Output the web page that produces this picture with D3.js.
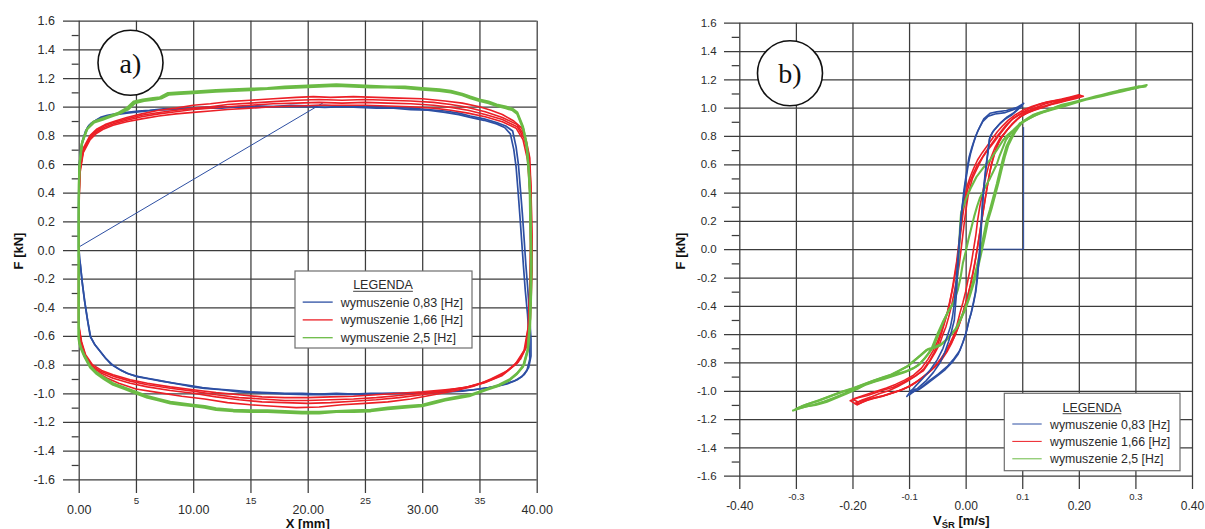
<!DOCTYPE html>
<html>
<head>
<meta charset="utf-8">
<script src="https://cdn.jsdelivr.net/npm/d3@7"></script>
<style>
  body { margin: 0; background: #fff; }
  svg { display: block; }
</style>
</head>
<body>
<svg id="chart" width="1205" height="529"></svg>
<script>
// ---- tick values and labels ----
const forceTicks = [-1.6, -1.4, -1.2, -1.0, -0.8, -0.6, -0.4, -0.2, 0.0, 0.2, 0.4, 0.6, 0.8, 1.0, 1.2, 1.4, 1.6];
const forceTickLabels = ["-1.6", "-1.4", "-1.2", "-1.0", "-0.8", "-0.6", "-0.4", "-0.2", "0.0", "0.2", "0.4", "0.6", "0.8", "1.0", "1.2", "1.4", "1.6"];
const forceMinorTicks = [-1.5, -1.3, -1.1, -0.9, -0.7, -0.5, -0.3, -0.1, 0.1, 0.3, 0.5, 0.7, 0.9, 1.1, 1.3, 1.5];

const strokeMajorTicks = [0, 10, 20, 30, 40];
const strokeMajorLabels = ["0.00", "10.00", "20.00", "30.00", "40.00"];
const strokeMinorTicks = [5, 15, 25, 35];
const strokeMinorLabels = ["5", "15", "25", "35"];

const velMajorTicks = [-0.4, -0.2, 0.0, 0.2, 0.4];
const velMajorLabels = ["-0.40", "-0.20", "0.00", "0.20", "0.40"];
const velMinorTicks = [-0.3, -0.1, 0.1, 0.3];
const velMinorLabels = ["-0.3", "-0.1", "0.1", "0.3"];

const legendLabels = ["wymuszenie 0,83 [Hz]", "wymuszenie 1,66 [Hz]", "wymuszenie 2,5 [Hz]"];

// ---- a) force vs. stroke X [mm] ----
const strokeBlueStart = [[0, 0.02], [21.3, 1.025]];

const strokeBlue1 = [[0,0.02],[0,0.3],[0.03,0.55],[0.15,0.66],[0.3,0.74],[0.55,0.81],[0.8,0.86],[1.1,0.885],[1.5,0.905],[1.9,0.925],[2.5,0.94],[3.2,0.95],[4.2,0.96],[5.2,0.97],[6.2,0.975],[7.4,0.985],[8.6,0.985],[9.8,0.99],[11,0.995],[12.5,1.0],[14,0.995],[15.5,1.005],[17,1.0],[18.5,1.01],[20,1.005],[21.5,1.01],[23,1.0],[24.5,1.005],[26,1.0],[27.5,0.995],[29,0.99],[30.5,0.98],[32,0.97],[33.2,0.955],[34.2,0.935],[35.4,0.915],[36.5,0.89],[37.3,0.865],[37.9,0.83],[38.2,0.72],[38.4,0.6],[38.6,0.4],[38.75,0.25],[38.9,0.08],[39.05,-0.1],[39.2,-0.25],[39.35,-0.42],[39.5,-0.62],[39.5,-0.74],[39.3,-0.82],[38.9,-0.87],[38.3,-0.905],[37.4,-0.935],[36.3,-0.955],[35,-0.97],[33.5,-0.985],[32,-0.99],[30.5,-0.995],[29,-1.0],[27.5,-1.0],[26,-1.005],[24.5,-1.01],[23,-1.005],[21.5,-1.01],[20,-1.01],[18.5,-1.005],[17,-1.0],[15.5,-0.995],[14,-0.99],[12.5,-0.975],[11,-0.965],[10,-0.955],[9,-0.94],[8,-0.925],[7,-0.91],[6,-0.895],[5,-0.88],[4.2,-0.86],[3.5,-0.83],[2.8,-0.795],[2.3,-0.75],[1.8,-0.7],[1.4,-0.66],[1.0,-0.6],[0.75,-0.48],[0.5,-0.35],[0.3,-0.22],[0.12,-0.08],[0,0.02]];

const strokeBlue2 = [[0,-0.05],[0,0.35],[0.04,0.58],[0.18,0.7],[0.35,0.77],[0.6,0.83],[0.9,0.87],[1.3,0.895],[1.8,0.915],[2.4,0.93],[3.2,0.945],[4.2,0.955],[5.4,0.965],[6.6,0.975],[8,0.98],[9.5,0.985],[11,0.99],[12.5,0.99],[14,1.0],[15.5,0.995],[17,1.0],[18.5,1.0],[20,1.0],[21.5,0.995],[23,1.0],[24.5,0.995],[26,0.99],[27.5,0.99],[29,0.98],[30.5,0.975],[32,0.96],[33.2,0.945],[34.2,0.925],[35.4,0.905],[36.5,0.88],[37.2,0.855],[37.7,0.81],[38,0.7],[38.2,0.58],[38.4,0.38],[38.55,0.22],[38.7,0.05],[38.85,-0.12],[39.0,-0.28],[39.2,-0.45],[39.35,-0.64],[39.4,-0.76],[39.15,-0.84],[38.7,-0.885],[38,-0.915],[37,-0.94],[35.8,-0.96],[34.5,-0.975],[33,-0.985],[31.5,-0.99],[30,-0.995],[28.5,-1.0],[27,-1.0],[25.5,-1.0],[24,-1.005],[22.5,-1.0],[21,-1.005],[19.5,-1.0],[18,-1.0],[16.5,-0.995],[15,-0.99],[13.5,-0.98],[12,-0.97],[10.8,-0.96],[9.6,-0.945],[8.4,-0.93],[7.2,-0.915],[6.2,-0.9],[5.2,-0.885],[4.4,-0.865],[3.7,-0.84],[3.0,-0.805],[2.4,-0.76],[1.9,-0.71],[1.45,-0.665],[1.05,-0.61],[0.8,-0.5],[0.55,-0.37],[0.33,-0.24],[0.14,-0.1],[0,-0.05]];

const strokeRed1 = [[0,-0.55],[0,-0.2],[0.02,0.15],[0.05,0.42],[0.12,0.57],[0.4,0.71],[1.0,0.8],[1.6,0.845],[2.3,0.875],[3.2,0.9],[4.2,0.925],[5.5,0.95],[7,0.975],[8.5,0.99],[10,1.01],[11.5,1.02],[13,1.035],[15,1.045],[17,1.055],[19,1.065],[20.5,1.07],[22,1.065],[24,1.07],[26,1.065],[28,1.06],[30,1.055],[32,1.04],[33.5,1.025],[35,1.0],[36,0.975],[37,0.945],[38,0.9],[38.7,0.85],[39.1,0.76],[39.4,0.64],[39.5,0.42],[39.6,0.1],[39.6,-0.15],[39.45,-0.48],[39.2,-0.66],[38.6,-0.76],[37.5,-0.84],[36,-0.9],[34.5,-0.95],[33,-0.98],[31,-1.01],[29,-1.04],[27,-1.06],[25,-1.07],[23,-1.08],[21,-1.095],[19,-1.1],[17,-1.09],[15,-1.08],[13,-1.065],[11,-1.04],[9,-1.02],[7,-0.995],[5,-0.97],[3.5,-0.93],[2.5,-0.895],[1.6,-0.855],[1.0,-0.81],[0.5,-0.74],[0.2,-0.64],[0.05,-0.58],[0,-0.55]];

const strokeRed2 = [[0,-0.52],[0,-0.25],[0.02,0.1],[0.05,0.4],[0.11,0.56],[0.4,0.7],[1.0,0.79],[1.5,0.83],[2.2,0.865],[3,0.89],[4.2,0.915],[5.5,0.94],[7,0.96],[8.5,0.975],[10,0.99],[11.5,1.0],[13,1.015],[15,1.025],[17,1.035],[19,1.045],[21,1.05],[23,1.045],[25,1.05],[27,1.045],[29,1.04],[31,1.03],[32.5,1.015],[34,0.995],[35.5,0.965],[37,0.925],[38.3,0.875],[38.9,0.8],[39.3,0.67],[39.5,0.45],[39.55,0.1],[39.5,-0.2],[39.35,-0.5],[39.05,-0.68],[38.4,-0.78],[37,-0.87],[35.5,-0.92],[34,-0.955],[32,-0.985],[30,-1.01],[28,-1.03],[26,-1.045],[24,-1.055],[22,-1.065],[20,-1.07],[18,-1.065],[16,-1.06],[14,-1.045],[12,-1.025],[10,-1.0],[8,-0.98],[6,-0.955],[4.5,-0.93],[3,-0.895],[2,-0.86],[1.2,-0.82],[0.6,-0.75],[0.25,-0.66],[0.06,-0.57],[0,-0.52]];

const strokeRed3 = [[0,-0.5],[0,-0.22],[0.02,0.12],[0.05,0.4],[0.1,0.55],[0.4,0.69],[1.0,0.78],[1.5,0.82],[2.2,0.855],[3,0.88],[4.2,0.905],[5.5,0.93],[7,0.95],[8.5,0.965],[10,0.98],[11.5,0.99],[13,1.0],[15,1.01],[17,1.02],[19,1.025],[21,1.03],[23,1.025],[25,1.03],[27,1.025],[29,1.02],[31,1.01],[32.5,0.995],[34,0.975],[35.5,0.945],[37,0.91],[38.3,0.86],[38.9,0.78],[39.3,0.65],[39.45,0.42],[39.5,0.08],[39.45,-0.22],[39.3,-0.52],[39.0,-0.69],[38.3,-0.79],[37,-0.875],[35.5,-0.925],[34,-0.955],[32,-0.98],[30,-1.0],[28,-1.015],[26,-1.03],[24,-1.04],[22,-1.045],[20,-1.05],[18,-1.05],[16,-1.04],[14,-1.03],[12,-1.01],[10,-0.985],[8,-0.965],[6,-0.94],[4.5,-0.915],[3,-0.88],[2,-0.85],[1.2,-0.81],[0.6,-0.74],[0.25,-0.65],[0.06,-0.56],[0,-0.5]];

const strokeRed4 = [[0,-0.48],[0,-0.2],[0.02,0.1],[0.04,0.38],[0.1,0.53],[0.4,0.68],[1.0,0.77],[1.5,0.81],[2.2,0.845],[3,0.87],[4.2,0.895],[5.5,0.915],[7,0.935],[8.5,0.95],[10,0.96],[11.5,0.97],[13,0.98],[15,0.99],[17,1.0],[19,1.005],[21,1.01],[23,1.01],[25,1.01],[27,1.005],[29,1.0],[31,0.99],[32.5,0.975],[34,0.955],[35.5,0.93],[37,0.895],[38.2,0.85],[38.8,0.77],[39.2,0.63],[39.4,0.4],[39.45,0.05],[39.4,-0.25],[39.25,-0.54],[38.9,-0.7],[38.1,-0.8],[36.8,-0.88],[35.3,-0.93],[33.8,-0.96],[32,-0.975],[30,-0.99],[28,-1.0],[26,-1.01],[24,-1.02],[22,-1.025],[20,-1.03],[18,-1.03],[16,-1.025],[14,-1.01],[12,-0.995],[10,-0.975],[8,-0.955],[6,-0.93],[4.5,-0.905],[3,-0.87],[2,-0.84],[1.2,-0.8],[0.6,-0.73],[0.25,-0.64],[0.06,-0.55],[0,-0.48]];

const strokeGreen1 = [[0,-0.62],[0,-0.2],[0,0.2],[0.02,0.45],[0.06,0.58],[0.26,0.74],[0.7,0.84],[1.27,0.895],[2,0.915],[2.7,0.935],[3.4,0.955],[4.2,0.99],[4.8,1.035],[5.6,1.05],[6.5,1.06],[7.1,1.065],[7.8,1.095],[8.8,1.1],[10,1.105],[11,1.11],[12,1.115],[13.5,1.12],[15,1.125],[16.5,1.13],[18,1.14],[19.5,1.145],[21,1.15],[22.5,1.155],[24,1.15],[25.5,1.145],[27,1.14],[28.5,1.14],[30,1.13],[31.5,1.12],[32.5,1.11],[33.5,1.09],[34.2,1.07],[35,1.05],[35.8,1.035],[36.5,1.015],[37.3,1.0],[37.9,0.985],[38.3,0.96],[38.6,0.9],[38.8,0.86],[39.1,0.745],[39.3,0.55],[39.4,0.4],[39.45,0.15],[39.5,-0.07],[39.45,-0.3],[39.4,-0.51],[39.2,-0.7],[38.8,-0.815],[38.2,-0.87],[37.6,-0.91],[36.6,-0.95],[35.6,-0.977],[34.1,-1.02],[33,-1.035],[32,-1.05],[31,-1.07],[30,-1.09],[28.5,-1.1],[27,-1.11],[25.5,-1.125],[24,-1.13],[22.5,-1.13],[21,-1.14],[19.5,-1.14],[18,-1.135],[16.5,-1.13],[15,-1.13],[13.5,-1.125],[12,-1.115],[11,-1.1],[10,-1.09],[9,-1.08],[8,-1.07],[7,-1.05],[6,-1.03],[5,-1.0],[4,-0.97],[3,-0.94],[2.2,-0.9],[1.5,-0.86],[1.0,-0.82],[0.5,-0.745],[0.2,-0.69],[0.05,-0.65],[0,-0.62]];

const strokeGreen2 = [[0,-0.6],[0,-0.1],[0,0.25],[0.03,0.48],[0.08,0.6],[0.3,0.75],[0.75,0.845],[1.35,0.89],[2.1,0.91],[2.8,0.93],[3.5,0.95],[4.3,0.98],[4.9,1.025],[5.7,1.04],[6.6,1.05],[7.2,1.058],[7.9,1.085],[8.9,1.09],[10,1.095],[11,1.1],[12,1.105],[13.5,1.11],[15,1.115],[16.5,1.125],[18,1.13],[19.5,1.135],[21,1.14],[22.5,1.145],[24,1.14],[25.5,1.135],[27,1.135],[28.5,1.13],[30,1.12],[31.5,1.11],[32.5,1.1],[33.5,1.08],[34.2,1.06],[35,1.04],[35.8,1.025],[36.5,1.005],[37.3,0.99],[37.9,0.975],[38.3,0.95],[38.6,0.89],[38.85,0.84],[39.15,0.72],[39.35,0.52],[39.45,0.35],[39.5,0.1],[39.55,-0.1],[39.5,-0.33],[39.42,-0.53],[39.25,-0.69],[38.9,-0.8],[38.3,-0.86],[37.7,-0.9],[36.7,-0.94],[35.7,-0.968],[34.2,-1.01],[33,-1.025],[32,-1.04],[31,-1.06],[30,-1.08],[28.5,-1.09],[27,-1.1],[25.5,-1.115],[24,-1.12],[22.5,-1.125],[21,-1.13],[19.5,-1.13],[18,-1.125],[16.5,-1.12],[15,-1.12],[13.5,-1.115],[12,-1.105],[11,-1.09],[10,-1.08],[9,-1.07],[8,-1.06],[7,-1.04],[6,-1.02],[5,-0.99],[4,-0.96],[3,-0.93],[2.2,-0.89],[1.5,-0.85],[1.0,-0.81],[0.5,-0.735],[0.2,-0.68],[0.05,-0.64],[0,-0.6]];

// ---- b) force vs. piston velocity V_ŚR [m/s] ----
const velBlueStart = [[0.03, 0.0], [0.1025, 0.0], [0.1025, 0.86]];

const velBlue1 = [[0.1025,1.03],[0.09,1.0],[0.072,0.98],[0.055,0.97],[0.043,0.96],[0.032,0.92],[0.025,0.865],[0.019,0.81],[0.014,0.75],[0.009,0.68],[0.005,0.606],[0.002,0.53],[-0.0005,0.465],[-0.003,0.38],[-0.006,0.30],[-0.008,0.2],[-0.01,0.1],[-0.012,0.0],[-0.013,-0.1],[-0.015,-0.2],[-0.016,-0.3],[-0.018,-0.4],[-0.02,-0.5],[-0.025,-0.58],[-0.03,-0.65],[-0.037,-0.73],[-0.045,-0.8],[-0.057,-0.87],[-0.07,-0.93],[-0.08,-0.965],[-0.09,-1.0],[-0.1,-1.03],[-0.098,-1.0],[-0.09,-0.99],[-0.081,-0.984],[-0.072,-0.955],[-0.063,-0.925],[-0.048,-0.88],[-0.033,-0.83],[-0.022,-0.78],[-0.01,-0.714],[-0.004,-0.65],[0.002,-0.574],[0.006,-0.5],[0.01,-0.45],[0.014,-0.38],[0.018,-0.3],[0.021,-0.2],[0.023,-0.1],[0.025,-0.05],[0.027,0.1],[0.029,0.25],[0.031,0.37],[0.034,0.5],[0.037,0.606],[0.04,0.7],[0.043,0.795],[0.05,0.84],[0.061,0.89],[0.072,0.93],[0.084,0.96],[0.095,1.0],[0.1025,1.03]];

const velBlue2 = [[0.1,1.01],[0.088,0.99],[0.07,0.965],[0.052,0.955],[0.04,0.94],[0.03,0.9],[0.022,0.84],[0.016,0.78],[0.011,0.72],[0.006,0.65],[0.003,0.58],[0.0,0.5],[-0.003,0.42],[-0.005,0.34],[-0.008,0.24],[-0.01,0.13],[-0.012,0.03],[-0.014,-0.08],[-0.016,-0.18],[-0.018,-0.28],[-0.02,-0.38],[-0.023,-0.47],[-0.027,-0.55],[-0.033,-0.62],[-0.04,-0.7],[-0.05,-0.78],[-0.062,-0.85],[-0.075,-0.91],[-0.087,-0.96],[-0.096,-1.0],[-0.104,-1.04],[-0.1,-1.02],[-0.092,-1.005],[-0.084,-0.995],[-0.075,-0.97],[-0.065,-0.94],[-0.05,-0.895],[-0.036,-0.85],[-0.024,-0.8],[-0.013,-0.74],[-0.006,-0.67],[0.0,-0.6],[0.005,-0.52],[0.009,-0.46],[0.013,-0.39],[0.017,-0.31],[0.02,-0.21],[0.022,-0.12],[0.024,-0.03],[0.026,0.08],[0.028,0.22],[0.03,0.35],[0.033,0.48],[0.036,0.59],[0.039,0.68],[0.042,0.78],[0.048,0.83],[0.059,0.88],[0.07,0.92],[0.082,0.95],[0.093,0.99],[0.1,1.01]];

const velRed1 = [[-0.204,-1.07],[-0.19,-1.05],[-0.175,-1.035],[-0.163,-1.02],[-0.145,-0.995],[-0.128,-0.975],[-0.11,-0.94],[-0.093,-0.905],[-0.075,-0.86],[-0.063,-0.79],[-0.054,-0.73],[-0.046,-0.67],[-0.04,-0.6],[-0.035,-0.55],[-0.03,-0.48],[-0.025,-0.4],[-0.02,-0.3],[-0.015,-0.2],[-0.011,-0.1],[-0.008,0.0],[-0.005,0.1],[-0.002,0.2],[0.001,0.29],[0.004,0.37],[0.008,0.44],[0.012,0.5],[0.019,0.56],[0.025,0.61],[0.031,0.655],[0.04,0.705],[0.049,0.75],[0.058,0.8],[0.066,0.84],[0.075,0.885],[0.084,0.925],[0.098,0.96],[0.113,0.995],[0.128,1.02],[0.143,1.04],[0.157,1.05],[0.17,1.06],[0.185,1.075],[0.2,1.09],[0.208,1.08],[0.195,1.065],[0.18,1.05],[0.165,1.035],[0.15,1.02],[0.135,1.0],[0.12,0.98],[0.108,0.96],[0.096,0.935],[0.087,0.9],[0.078,0.865],[0.069,0.82],[0.06,0.78],[0.052,0.72],[0.045,0.65],[0.04,0.58],[0.035,0.5],[0.03,0.4],[0.025,0.3],[0.021,0.2],[0.018,0.1],[0.014,0.0],[0.01,-0.1],[0.005,-0.2],[0.0,-0.3],[-0.005,-0.38],[-0.01,-0.45],[-0.015,-0.53],[-0.02,-0.6],[-0.027,-0.66],[-0.035,-0.72],[-0.045,-0.78],[-0.055,-0.83],[-0.067,-0.875],[-0.08,-0.92],[-0.095,-0.96],[-0.11,-0.99],[-0.125,-1.01],[-0.14,-1.03],[-0.155,-1.045],[-0.17,-1.06],[-0.182,-1.08],[-0.192,-1.1],[-0.204,-1.07]];

const velRed2 = [[-0.196,-1.09],[-0.183,-1.065],[-0.168,-1.045],[-0.152,-1.02],[-0.136,-1.0],[-0.12,-0.97],[-0.104,-0.935],[-0.088,-0.895],[-0.074,-0.845],[-0.064,-0.79],[-0.056,-0.73],[-0.049,-0.67],[-0.043,-0.6],[-0.038,-0.53],[-0.033,-0.46],[-0.028,-0.38],[-0.024,-0.29],[-0.02,-0.19],[-0.016,-0.09],[-0.013,0.01],[-0.01,0.11],[-0.007,0.21],[-0.004,0.3],[-0.001,0.38],[0.003,0.45],[0.008,0.51],[0.014,0.57],[0.021,0.63],[0.029,0.68],[0.038,0.73],[0.047,0.78],[0.056,0.83],[0.065,0.87],[0.075,0.91],[0.088,0.95],[0.103,0.985],[0.118,1.01],[0.135,1.03],[0.152,1.045],[0.168,1.055],[0.182,1.065],[0.192,1.075],[0.185,1.06],[0.17,1.045],[0.155,1.03],[0.14,1.01],[0.125,0.99],[0.112,0.97],[0.1,0.945],[0.09,0.915],[0.081,0.88],[0.073,0.84],[0.065,0.8],[0.058,0.75],[0.051,0.68],[0.046,0.61],[0.042,0.53],[0.038,0.44],[0.034,0.34],[0.03,0.24],[0.026,0.14],[0.022,0.04],[0.018,-0.06],[0.013,-0.16],[0.008,-0.26],[0.003,-0.34],[-0.003,-0.42],[-0.008,-0.49],[-0.014,-0.56],[-0.02,-0.62],[-0.028,-0.68],[-0.037,-0.74],[-0.048,-0.8],[-0.06,-0.85],[-0.073,-0.895],[-0.088,-0.94],[-0.103,-0.975],[-0.118,-1.0],[-0.133,-1.02],[-0.148,-1.04],[-0.163,-1.055],[-0.176,-1.07],[-0.188,-1.09],[-0.196,-1.09]];

const velRed3 = [[-0.2,-1.06],[-0.186,-1.04],[-0.17,-1.02],[-0.155,-1.0],[-0.14,-0.98],[-0.124,-0.955],[-0.108,-0.925],[-0.092,-0.89],[-0.078,-0.84],[-0.067,-0.78],[-0.058,-0.72],[-0.05,-0.655],[-0.044,-0.59],[-0.038,-0.52],[-0.032,-0.44],[-0.027,-0.35],[-0.022,-0.26],[-0.018,-0.16],[-0.014,-0.06],[-0.011,0.04],[-0.008,0.14],[-0.005,0.24],[-0.002,0.32],[0.002,0.4],[0.007,0.47],[0.013,0.53],[0.02,0.59],[0.028,0.64],[0.036,0.69],[0.045,0.74],[0.054,0.79],[0.062,0.83],[0.071,0.875],[0.08,0.91],[0.093,0.945],[0.108,0.975],[0.123,1.0],[0.14,1.025],[0.158,1.045],[0.175,1.06],[0.19,1.075],[0.203,1.085],[0.196,1.07],[0.18,1.055],[0.164,1.04],[0.148,1.02],[0.132,1.0],[0.117,0.98],[0.104,0.955],[0.093,0.925],[0.084,0.89],[0.075,0.85],[0.067,0.81],[0.059,0.76],[0.053,0.7],[0.048,0.63],[0.043,0.55],[0.039,0.46],[0.035,0.37],[0.031,0.27],[0.027,0.17],[0.023,0.07],[0.019,-0.03],[0.015,-0.13],[0.01,-0.23],[0.005,-0.31],[-0.001,-0.4],[-0.006,-0.47],[-0.012,-0.54],[-0.018,-0.6],[-0.025,-0.665],[-0.033,-0.725],[-0.043,-0.785],[-0.055,-0.835],[-0.068,-0.88],[-0.083,-0.925],[-0.098,-0.965],[-0.114,-0.995],[-0.13,-1.015],[-0.146,-1.035],[-0.162,-1.05],[-0.178,-1.065],[-0.19,-1.08],[-0.2,-1.06]];

const velGreen1 = [[-0.305,-1.14],[-0.298,-1.13],[-0.29,-1.12],[-0.281,-1.11],[-0.265,-1.1],[-0.246,-1.08],[-0.228,-1.05],[-0.21,-1.02],[-0.19,-0.985],[-0.175,-0.95],[-0.155,-0.925],[-0.14,-0.905],[-0.12,-0.88],[-0.104,-0.86],[-0.09,-0.835],[-0.081,-0.81],[-0.068,-0.75],[-0.057,-0.69],[-0.046,-0.58],[-0.038,-0.5],[-0.03,-0.43],[-0.019,-0.37],[-0.016,-0.25],[-0.013,-0.1],[-0.011,0.05],[-0.01,0.15],[-0.008,0.26],[0.002,0.37],[0.01,0.44],[0.019,0.51],[0.03,0.57],[0.043,0.63],[0.055,0.7],[0.066,0.77],[0.075,0.81],[0.084,0.84],[0.092,0.87],[0.1,0.9],[0.11,0.925],[0.12,0.95],[0.131,0.965],[0.143,0.98],[0.157,1.0],[0.17,1.02],[0.186,1.035],[0.202,1.05],[0.216,1.065],[0.23,1.08],[0.246,1.095],[0.261,1.11],[0.275,1.12],[0.29,1.13],[0.305,1.145],[0.32,1.16],[0.315,1.15],[0.305,1.15],[0.288,1.135],[0.27,1.12],[0.255,1.105],[0.24,1.09],[0.222,1.07],[0.202,1.05],[0.182,1.025],[0.16,1.0],[0.145,0.98],[0.13,0.96],[0.113,0.925],[0.104,0.905],[0.096,0.89],[0.09,0.855],[0.084,0.82],[0.078,0.775],[0.072,0.725],[0.066,0.64],[0.061,0.56],[0.055,0.46],[0.049,0.37],[0.043,0.28],[0.037,0.2],[0.031,0.08],[0.025,-0.03],[0.02,-0.12],[0.015,-0.2],[0.01,-0.28],[0.005,-0.35],[-0.002,-0.43],[-0.01,-0.5],[-0.017,-0.56],[-0.025,-0.6],[-0.035,-0.645],[-0.045,-0.68],[-0.057,-0.7],[-0.069,-0.71],[-0.08,-0.75],[-0.092,-0.79],[-0.104,-0.83],[-0.118,-0.86],[-0.133,-0.89],[-0.148,-0.91],[-0.163,-0.93],[-0.18,-0.955],[-0.2,-0.985],[-0.22,-1.01],[-0.24,-1.04],[-0.26,-1.07],[-0.28,-1.095],[-0.295,-1.12],[-0.305,-1.14]];

const velGreen2 = [[-0.3,-1.13],[-0.285,-1.115],[-0.27,-1.1],[-0.25,-1.075],[-0.232,-1.05],[-0.214,-1.02],[-0.195,-0.99],[-0.178,-0.96],[-0.16,-0.935],[-0.143,-0.915],[-0.124,-0.89],[-0.108,-0.87],[-0.094,-0.845],[-0.084,-0.82],[-0.072,-0.77],[-0.061,-0.71],[-0.05,-0.6],[-0.041,-0.52],[-0.032,-0.45],[-0.022,-0.38],[-0.014,-0.29],[-0.009,-0.2],[-0.005,-0.1],[0.0,-0.02],[0.005,0.07],[0.01,0.15],[0.015,0.23],[0.02,0.3],[0.025,0.36],[0.03,0.4],[0.036,0.45],[0.043,0.5],[0.049,0.55],[0.055,0.6],[0.06,0.66],[0.066,0.72],[0.071,0.77],[0.077,0.805],[0.086,0.845],[0.095,0.88],[0.104,0.905],[0.114,0.93],[0.125,0.955],[0.137,0.97],[0.15,0.99],[0.164,1.01],[0.18,1.025],[0.196,1.04],[0.212,1.055],[0.228,1.07],[0.244,1.085],[0.26,1.1],[0.276,1.115],[0.292,1.13],[0.308,1.145],[0.318,1.15],[0.3,1.14],[0.284,1.125],[0.266,1.11],[0.25,1.095],[0.232,1.075],[0.212,1.055],[0.19,1.03],[0.17,1.005],[0.152,0.985],[0.136,0.965],[0.12,0.94],[0.108,0.915],[0.1,0.895],[0.093,0.86],[0.087,0.825],[0.081,0.78],[0.075,0.73],[0.069,0.65],[0.064,0.57],[0.058,0.47],[0.052,0.38],[0.046,0.29],[0.04,0.21],[0.034,0.09],[0.028,-0.02],[0.023,-0.11],[0.018,-0.19],[0.012,-0.27],[0.006,-0.35],[0.0,-0.42],[-0.008,-0.49],[-0.015,-0.55],[-0.023,-0.59],[-0.033,-0.635],[-0.043,-0.67],[-0.055,-0.69],[-0.066,-0.705],[-0.078,-0.745],[-0.09,-0.785],[-0.102,-0.825],[-0.116,-0.855],[-0.131,-0.885],[-0.146,-0.905],[-0.161,-0.925],[-0.178,-0.95],[-0.198,-0.98],[-0.218,-1.005],[-0.238,-1.035],[-0.258,-1.065],[-0.276,-1.09],[-0.29,-1.11],[-0.3,-1.13]];

// ---- styling ----
const COLORS = { blue: "#2d4fa3", red: "#ec1f26", green: "#6bbb45" };
const SANS = "'Liberation Sans', Arial, Helvetica, sans-serif";
const SERIF = "'Liberation Serif', 'Times New Roman', serif";
const GRID = "#3c3c3c";
const TEXT = "#2b2b2b";

const svg = d3.select("#chart");

function drawPanel(p) {
  const g = svg.append("g");
  const x = d3.scaleLinear().domain(p.xDomain).range([p.left, p.right]);
  const y = d3.scaleLinear().domain([-1.6, 1.6]).range([p.bottom, p.top]);

  // horizontal grid + force labels
  const yGrid = g.append("g")
    .attr("transform", `translate(${p.gridLeft},0)`)
    .call(d3.axisLeft(y).tickValues(forceTicks)
      .tickSizeInner(-(p.right - p.gridLeft)).tickSizeOuter(0)
      .tickPadding(p.yLabelPad)
      .tickFormat((d, i) => forceTickLabels[i]));
  yGrid.select(".domain").remove();
  yGrid.selectAll("line").attr("stroke", GRID).attr("stroke-width", 1.25);
  yGrid.selectAll("text").attr("fill", TEXT).style("font", `${p.yFont}px ${SANS}`);

  // minor force ticks
  const yMinor = g.append("g")
    .attr("transform", `translate(${p.left},0)`)
    .call(d3.axisLeft(y).tickValues(forceMinorTicks).tickSize(p.minorLen).tickFormat(""));
  yMinor.select(".domain").remove();
  yMinor.selectAll("line").attr("stroke", GRID).attr("stroke-width", 1.25);

  // vertical grid
  const xGrid = g.append("g")
    .attr("transform", `translate(0,${p.gridBottom})`)
    .call(d3.axisBottom(x).tickValues(p.majorTicks.concat(p.minorTicks))
      .tickSizeInner(-(p.gridBottom - p.top)).tickSizeOuter(0).tickFormat(""));
  xGrid.select(".domain").remove();
  xGrid.selectAll("line").attr("stroke", GRID).attr("stroke-width", 1.25);

  // major and minor x labels
  [[p.majorTicks, p.majorLabels, p.majorFont, p.majorBase],
   [p.minorTicks, p.minorLabels, p.minorFont, p.minorBase]].forEach(([ticks, labels, size, base]) => {
    const ax = g.append("g")
      .attr("transform", `translate(0,${p.gridBottom})`)
      .call(d3.axisBottom(x).tickValues(ticks).tickSize(0).tickFormat((d, i) => labels[i]));
    ax.select(".domain").remove();
    ax.selectAll("line").remove();
    ax.selectAll("text").attr("y", base - p.gridBottom).attr("dy", 0)
      .attr("fill", TEXT).style("font", `${size}px ${SANS}`);
  });

  // series
  const line = d3.line().x(d => x(d[0])).y(d => y(d[1]));
  const series = g.append("g").attr("fill", "none")
    .attr("stroke-linejoin", "round").attr("stroke-linecap", "round");
  p.series.forEach(s => {
    series.append("path").datum(s.data).attr("d", line)
      .attr("stroke", COLORS[s.color]).attr("stroke-width", s.width);
  });

  // panel tag in a circle
  g.append("circle").attr("cx", p.tag.cx).attr("cy", p.tag.cy).attr("r", 32.5)
    .attr("fill", "#fff").attr("stroke", "#111").attr("stroke-width", 1.6);
  g.append("text").attr("x", p.tag.cx).attr("y", p.tag.cy + 10)
    .attr("text-anchor", "middle").attr("fill", "#111")
    .style("font", `28px ${SERIF}`).text(p.tag.text);

  // y title
  g.append("text")
    .attr("transform", `translate(${p.yTitleX},${p.yTitleY}) rotate(-90)`)
    .attr("text-anchor", "middle").attr("fill", "#111")
    .style("font", `bold 13px ${SANS}`).text("F [kN]");

  // legend
  const L = p.legend;
  const lg = g.append("g");
  lg.append("rect").attr("x", L.x).attr("y", L.y).attr("width", L.w).attr("height", L.h)
    .attr("fill", "#fff").attr("stroke", "#6e6e6e").attr("stroke-width", 1.2);
  const title = lg.append("text").attr("x", L.titleX).attr("y", L.titleY)
    .attr("text-anchor", "middle").attr("fill", TEXT)
    .style("font", `${L.font}px ${SANS}`).text("LEGENDA");
  const tw = title.node().getComputedTextLength();
  lg.append("line").attr("x1", L.titleX - tw / 2).attr("x2", L.titleX + tw / 2)
    .attr("y1", L.titleY + 2).attr("y2", L.titleY + 2)
    .attr("stroke", TEXT).attr("stroke-width", 0.9);
  ["blue", "red", "green"].forEach((c, i) => {
    const yy = L.row0 + i * L.rowStep;
    lg.append("line").attr("x1", L.lineX1).attr("x2", L.lineX2)
      .attr("y1", yy - 4.5).attr("y2", yy - 4.5)
      .attr("stroke", COLORS[c]).attr("stroke-width", L.lineW);
    lg.append("text").attr("x", L.textX).attr("y", yy).attr("fill", TEXT)
      .style("font", `${L.font}px ${SANS}`).text(legendLabels[i]);
  });
  return g;
}

// a) F–X
drawPanel({
  xDomain: [0, 40], left: 78.7, right: 536.7, top: 20.7, bottom: 479.3,
  gridLeft: 63, gridBottom: 493, minorLen: 7, yLabelPad: 8, yFont: 12.5,
  majorTicks: strokeMajorTicks, majorLabels: strokeMajorLabels, majorFont: 12.5, majorBase: 514,
  minorTicks: strokeMinorTicks, minorLabels: strokeMinorLabels, minorFont: 9.8, minorBase: 504,
  series: [
    { data: strokeBlueStart, color: "blue", width: 1 },
    { data: strokeBlue1, color: "blue", width: 1.7 },
    { data: strokeBlue2, color: "blue", width: 1.7 },
    { data: strokeRed1, color: "red", width: 1.6 },
    { data: strokeRed2, color: "red", width: 1.6 },
    { data: strokeRed3, color: "red", width: 1.6 },
    { data: strokeRed4, color: "red", width: 1.6 },
    { data: strokeGreen1, color: "green", width: 2.3 },
    { data: strokeGreen2, color: "green", width: 2.3 }
  ],
  tag: { cx: 130.5, cy: 62.8, text: "a)" },
  yTitleX: 22.5, yTitleY: 251,
  legend: { x: 295, y: 271, w: 177, h: 77, titleX: 383, titleY: 289.3, font: 12.5,
            row0: 306.6, rowStep: 17.8, lineX1: 302.7, lineX2: 332.7, textX: 340.7, lineW: 1.3 }
});

// b) F–V
drawPanel({
  xDomain: [-0.4, 0.4], left: 739.3, right: 1192, top: 22.7, bottom: 475.7,
  gridLeft: 724, gridBottom: 489, minorLen: 7.6, yLabelPad: 7.3, yFont: 11.5,
  majorTicks: velMajorTicks, majorLabels: velMajorLabels, majorFont: 12, majorBase: 509.5,
  minorTicks: velMinorTicks, minorLabels: velMinorLabels, minorFont: 9.5, minorBase: 499.5,
  series: [
    { data: velBlueStart, color: "blue", width: 1 },
    { data: velRed1, color: "red", width: 1.6 },
    { data: velRed2, color: "red", width: 1.6 },
    { data: velRed3, color: "red", width: 1.6 },
    { data: velGreen1, color: "green", width: 2.1 },
    { data: velGreen2, color: "green", width: 2.1 },
    { data: velBlue1, color: "blue", width: 1.6 },
    { data: velBlue2, color: "blue", width: 1.6 }
  ],
  tag: { cx: 790, cy: 73.3, text: "b)" },
  yTitleX: 685, yTitleY: 251,
  legend: { x: 1004.3, y: 393.3, w: 175.7, h: 77.4, titleX: 1092, titleY: 411.7, font: 12.3,
            row0: 428.5, rowStep: 17.4, lineX1: 1012.3, lineX2: 1041.7, textX: 1050, lineW: 1 }
});

// axis titles
svg.append("text").attr("x", 307.7).attr("y", 527.5).attr("text-anchor", "middle")
  .attr("fill", "#111").style("font", `bold 13px ${SANS}`).text("X [mm]");

const vTitle = svg.append("text").attr("x", 933).attr("y", 524.5).attr("fill", "#111")
  .style("font", `bold 13px ${SANS}`);
vTitle.append("tspan").text("V");
vTitle.append("tspan").attr("dy", 3.5).style("font-size", "9.5px").text("ŚR");
vTitle.append("tspan").attr("dy", -3.5).text(" [m/s]");
</script>
</body>
</html>
